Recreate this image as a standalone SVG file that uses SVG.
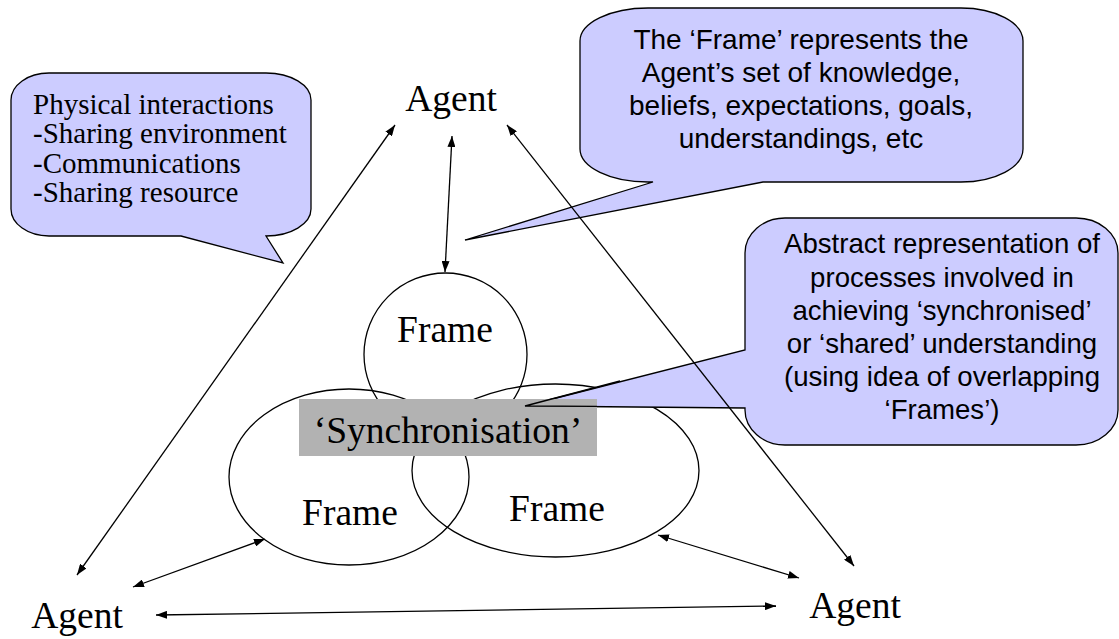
<svg xmlns="http://www.w3.org/2000/svg" width="1119" height="639" viewBox="0 0 1119 639">
<style>
.bg{fill:#ffffff}
.frame{fill:none;stroke:#000;stroke-width:1.3}
.callout{fill:#ccccff;stroke:#000;stroke-width:1.3;stroke-linejoin:miter}
.serif{font-family:"Liberation Serif","Times New Roman",serif;fill:#000}
.sans{font-family:"Liberation Sans",Arial,sans-serif;fill:#000}
.big{font-size:37.5px}
.conn{fill:none;stroke:#000;stroke-width:1.3;marker-start:url(#ah);marker-end:url(#ah)}
</style>
<defs>
<marker id="ah" viewBox="0 0 11 8" refX="11" refY="4" markerWidth="11" markerHeight="8" markerUnits="userSpaceOnUse" orient="auto-start-reverse">
<path d="M0,0 L11,4 L0,8 z" fill="#000"/>
</marker>
</defs>
<rect class="bg" x="0" y="0" width="1119" height="639"/>

<g id="frame-top">
<circle class="frame" cx="445.5" cy="354.5" r="81.5"/>
<text class="serif big" x="445" y="342" text-anchor="middle">Frame</text>
</g>
<g id="frame-left">
<ellipse class="frame" cx="349" cy="477" rx="120" ry="88"/>
<text class="serif big" x="350" y="525" text-anchor="middle">Frame</text>
</g>
<g id="frame-right">
<ellipse class="frame" cx="555.5" cy="470.5" rx="143.5" ry="86.5"/>
<text class="serif big" x="557" y="521" text-anchor="middle">Frame</text>
</g>

<g id="callout-physical">
<path class="callout" d="M49,73 H266 A45 27 0 0 1 311,100 V209 A45 27 0 0 1 266,236 L283,263 L181,236 H49 A38 27 0 0 1 11,209 V100 A38 27 0 0 1 49,73 Z"/>
<text class="serif" font-size="29" x="33" y="114">Physical interactions</text>
<text class="serif" font-size="29" x="33" y="143">-Sharing environment</text>
<text class="serif" font-size="29" x="33" y="173">-Communications</text>
<text class="serif" font-size="29" x="33" y="202">-Sharing resource</text>
</g>

<g id="callout-frame">
<path class="callout" d="M648,8 H961 A62 33 0 0 1 1023,41 V149 A62 33 0 0 1 961,182 H763 L465,240 L653,182 H648 A68 33 0 0 1 580,149 V41 A68 33 0 0 1 648,8 Z"/>
<text class="sans" font-size="28" text-anchor="middle" x="801" y="49">The ‘Frame’ represents the</text>
<text class="sans" font-size="28" text-anchor="middle" x="801" y="82">Agent’s set of knowledge,</text>
<text class="sans" font-size="28" text-anchor="middle" x="801" y="115">beliefs, expectations, goals,</text>
<text class="sans" font-size="28" text-anchor="middle" x="801" y="148">understandings, etc</text>
</g>

<g id="callout-abstract">
<path class="callout" d="M785,218 H1076 A42 35 0 0 1 1118,253 V410 A42 35 0 0 1 1076,445 H785 A40 35 0 0 1 745,410 V408 L525,406 L745,350 V253 A40 35 0 0 1 785,218 Z"/>
<text class="sans" font-size="27.6" text-anchor="middle" x="942" y="253">Abstract representation of</text>
<text class="sans" font-size="27.6" text-anchor="middle" x="942" y="287">processes involved in</text>
<text class="sans" font-size="27.6" text-anchor="middle" x="942" y="320">achieving ‘synchronised’</text>
<text class="sans" font-size="27.6" text-anchor="middle" x="942" y="353">or ‘shared’ understanding</text>
<text class="sans" font-size="27.6" text-anchor="middle" x="942" y="386">(using idea of overlapping</text>
<text class="sans" font-size="27.6" text-anchor="middle" x="942" y="419">‘Frames’)</text>
</g>

<g id="synchronisation">
<rect x="299" y="399" width="298" height="57" fill="#b2b2b2"/>
<polyline points="620,381 525,406 597,406.3" fill="none" stroke="#000" stroke-width="1.3"/>
<text class="serif" font-size="37.5" text-anchor="middle" x="448" y="443">‘Synchronisation’</text>
</g>

<g id="agent-top"><text class="serif big" x="451" y="111" text-anchor="middle">Agent</text></g>
<g id="agent-left"><text class="serif big" x="77" y="628" text-anchor="middle">Agent</text></g>
<g id="agent-right"><text class="serif big" x="855" y="618" text-anchor="middle">Agent</text></g>

<g id="connectors">
<line class="conn" x1="395" y1="125" x2="77" y2="575"/>
<line class="conn" x1="507" y1="125" x2="854" y2="566"/>
<line class="conn" x1="452" y1="136" x2="445" y2="272"/>
<line class="conn" x1="133" y1="587" x2="265" y2="539"/>
<line class="conn" x1="658" y1="535" x2="799" y2="578"/>
<line class="conn" x1="156" y1="615" x2="776" y2="606"/>
</g>
</svg>
